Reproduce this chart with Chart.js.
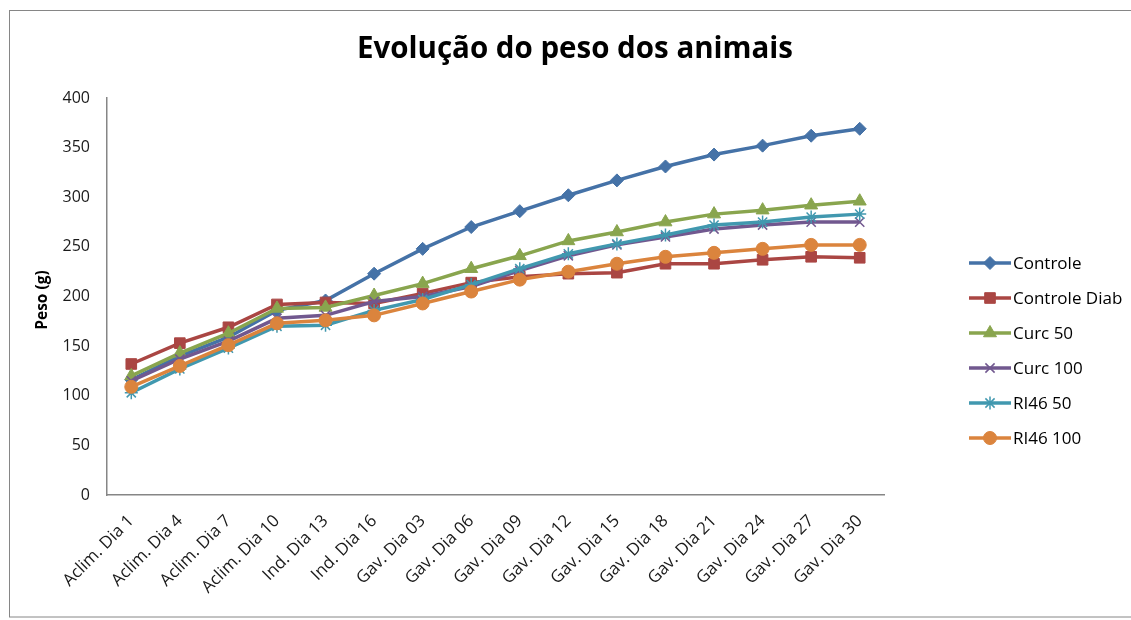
<!DOCTYPE html>
<html>
<head>
<meta charset="utf-8">
<title>Evolução do peso dos animais</title>
<script src="https://cdn.jsdelivr.net/npm/chart.js@4/dist/chart.umd.min.js"></script>
<style>
  html, body { margin: 0; padding: 0; background: #fff; }
  #wrap { width: 1131px; height: 620px; position: relative; }
</style>
</head>
<body>
<div id="wrap"><canvas id="chart"></canvas></div>
<script>
// Categories (x axis)
const days = [
  'Aclim. Dia 1', 'Aclim. Dia 4', 'Aclim. Dia 7', 'Aclim. Dia 10',
  'Ind. Dia 13', 'Ind. Dia 16',
  'Gav. Dia 03', 'Gav. Dia 06', 'Gav. Dia 09', 'Gav. Dia 12', 'Gav. Dia 15',
  'Gav. Dia 18', 'Gav. Dia 21', 'Gav. Dia 24', 'Gav. Dia 27', 'Gav. Dia 30'
];

// Weight (g) per group
const controle     = [116, 140, 159, 186, 196, 223, 248, 270, 286, 302, 317, 331, 343, 352, 362, 369];
const controleDiab = [132, 153, 169, 192, 194, 193, 203, 214, 220, 223, 224, 233, 233, 237, 240, 239];
const curc50       = [120, 143, 163, 188, 189, 201, 213, 228, 241, 256, 265, 275, 283, 287, 292, 296];
const curc100      = [115, 137, 155, 178, 181, 195, 200, 210, 226, 241, 252, 260, 268, 272, 275, 275];
const ri46_50      = [103, 127, 148, 170, 171, 186, 197, 212, 228, 243, 253, 262, 272, 275, 280, 283];
const ri46_100     = [109, 130, 151, 173, 176, 181, 193, 205, 217, 225, 233, 240, 244, 248, 252, 252];

const seriesNames = ['Controle', 'Controle Diab', 'Curc 50', 'Curc 100', 'RI46 50', 'RI46 100'];
const yTicks = [0, 50, 100, 150, 200, 250, 300, 350, 400];

const FONT = '"Open Sans", "Noto Sans", sans-serif';
const AXIS_GREY = '#868686';

// one style per series, Excel 2007 look
const styles = [
  { color: '#4572A7', point: 'rectRot',  radius: 6.5, bw: 1 },
  { color: '#AA4643', point: 'rect',     radius: 7.5, bw: 1 },
  { color: '#89A54E', point: 'triangle', radius: 7.5, bw: 1 },
  { color: '#71588F', point: 'crossRot', radius: 6.5, bw: 1.5 },
  { color: '#4198AF', point: 'star',     radius: 6.5, bw: 1.5 },
  { color: '#DB843D', point: 'circle',   radius: 6.5, bw: 1 }
];

const allValues = [controle, controleDiab, curc50, curc100, ri46_50, ri46_100];

const datasets = allValues.map(function (vals, i) {
  const s = styles[i];
  return {
    label: seriesNames[i],
    data: vals,
    borderColor: s.color,
    backgroundColor: s.color,
    borderWidth: 3.5,
    tension: 0,
    pointStyle: s.point,
    pointRadius: s.radius,
    pointHoverRadius: s.radius,
    pointBackgroundColor: s.color,
    pointBorderColor: s.color,
    pointBorderWidth: s.bw,
    order: allValues.length - i   // later series painted on top, as in Excel
  };
});

// frame, title, y-axis title and legend
const decorations = {
  id: 'decorations',
  beforeDraw: function (chart) {
    const ctx = chart.ctx;
    ctx.save();
    ctx.fillStyle = '#fff';
    ctx.fillRect(0, 0, chart.width, chart.height);
    ctx.strokeStyle = AXIS_GREY;
    ctx.lineWidth = 1;
    ctx.strokeRect(9.5, 10.5, 1140, 606.5);
    ctx.restore();
  },
  afterDraw: function (chart) {
    const ctx = chart.ctx;
    ctx.save();

    ctx.fillStyle = '#000';
    ctx.font = 'bold 29.5px ' + FONT;
    ctx.textAlign = 'center';
    ctx.textBaseline = 'middle';
    ctx.fillText('Evolução do peso dos animais', 575, 50);

    ctx.save();
    ctx.translate(43, 300);
    ctx.rotate(-Math.PI / 2);
    ctx.font = 'bold 15.5px ' + FONT;
    ctx.fillText('Peso (g)', 0, 0);
    ctx.restore();

    // legend
    ctx.font = '17px ' + FONT;
    ctx.textAlign = 'left';
    ctx.textBaseline = 'middle';
    datasets.forEach(function (ds, i) {
      const y = 263 + i * 35;
      ctx.strokeStyle = ds.borderColor;
      ctx.lineWidth = ds.borderWidth;
      ctx.beginPath();
      ctx.moveTo(969, y);
      ctx.lineTo(1011, y);
      ctx.stroke();
      ctx.fillStyle = ds.pointBackgroundColor;
      ctx.lineWidth = ds.pointBorderWidth;
      Chart.helpers.drawPoint(ctx, {
        pointStyle: ds.pointStyle,
        radius: ds.pointRadius,
        rotation: 0,
        borderWidth: ds.pointBorderWidth
      }, 990, y);
      ctx.fillStyle = '#000';
      ctx.fillText(ds.label, 1013, y + 1);
    });

    ctx.restore();
  }
};

new Chart(document.getElementById('chart'), {
  type: 'line',
  data: { labels: days, datasets: datasets },
  options: {
    responsive: true,
    maintainAspectRatio: false,
    animation: false,
    layout: { padding: { top: 98, right: 247, bottom: 0, left: 0 } },
    plugins: {
      legend: { display: false },
      title: { display: false },
      tooltip: { enabled: false }
    },
    scales: {
      x: {
        type: 'category',
        offset: true,
        grid: { display: false, drawTicks: false },
        border: { display: true, color: AXIS_GREY, width: 1.5 },
        ticks: {
          autoSkip: false,
          minRotation: 45,
          maxRotation: 45,
          padding: 16,
          color: '#1a1a1a',
          font: { family: FONT, size: 17 }
        },
        afterFit: function (scale) { scale.height = 125; }
      },
      y: {
        min: 0,
        max: 400,
        grid: { display: false, drawTicks: false },
        border: { display: true, color: AXIS_GREY, width: 1.5 },
        afterBuildTicks: function (scale) {
          scale.ticks = yTicks.map(function (v) { return { value: v }; });
        },
        ticks: {
          padding: 17,
          color: '#1a1a1a',
          font: { family: FONT, size: 16 }
        },
        afterFit: function (scale) { scale.width = 107; }
      }
    }
  },
  plugins: [decorations]
});
</script>
</body>
</html>
